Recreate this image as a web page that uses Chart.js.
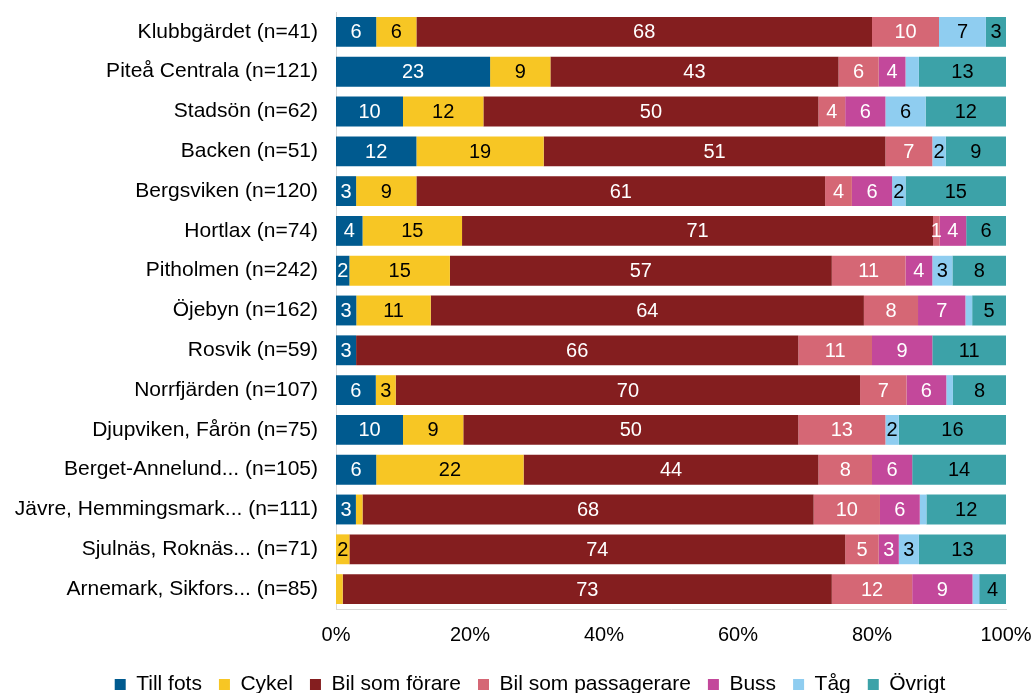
<!doctype html>
<html>
    <head>
        <meta charset="UTF-8" />
        <script src="https://cdn.jsdelivr.net/npm/chart.js"></script>
        <style>
            html, body { margin: 0; padding: 0; background: #fff; }
            #wrap { width: 1035px; height: 693px; }
        </style>
    </head>
    <body>
        <div id="wrap"><canvas id="modeChart"></canvas></div>
        <script>
            const areas = [
                "Klubbgärdet (n=41)",
                "Piteå Centrala (n=121)",
                "Stadsön (n=62)",
                "Backen (n=51)",
                "Bergsviken (n=120)",
                "Hortlax (n=74)",
                "Pitholmen (n=242)",
                "Öjebyn (n=162)",
                "Rosvik (n=59)",
                "Norrfjärden (n=107)",
                "Djupviken, Fårön (n=75)",
                "Berget-Annelund... (n=105)",
                "Jävre, Hemmingsmark... (n=111)",
                "Sjulnäs, Roknäs... (n=71)",
                "Arnemark, Sikfors... (n=85)",
            ];

            const tillFots = [6, 23, 10, 12, 3, 4, 2, 3, 3, 6, 10, 6, 3, 0, 0];
            const cykel = [6, 9, 12, 19, 9, 15, 15, 11, 0, 3, 9, 22, 1, 2, 1];
            const bilForare = [68, 43, 50, 51, 61, 71, 57, 64, 66, 70, 50, 44, 68, 74, 73];
            const bilPassagerare = [10, 6, 4, 7, 4, 1, 11, 8, 11, 7, 13, 8, 10, 5, 12];
            const buss = [0, 4, 6, 0, 6, 4, 4, 7, 9, 6, 0, 6, 6, 3, 9];
            const tag = [7, 2, 6, 2, 2, 0, 3, 1, 0, 1, 2, 0, 1, 3, 1];
            const ovrigt = [3, 13, 12, 9, 15, 6, 8, 5, 11, 8, 16, 14, 12, 13, 4];

            const xTicks = [0, 20, 40, 60, 80, 100];

            // segments that have no value label in the original ("row:series")
            const unlabeled = ["1:5", "7:5", "9:5", "12:1", "12:5", "14:1", "14:5"];

            const series = [
                { label: "Till fots", data: tillFots, color: "#005A8F", text: "#fff" },
                { label: "Cykel", data: cykel, color: "#F7C624", text: "#000" },
                { label: "Bil som förare", data: bilForare, color: "#841E1F", text: "#fff" },
                { label: "Bil som passagerare", data: bilPassagerare, color: "#D56775", text: "#fff" },
                { label: "Buss", data: buss, color: "#C3489B", text: "#fff" },
                { label: "Tåg", data: tag, color: "#8FCDF0", text: "#000" },
                { label: "Övrigt", data: ovrigt, color: "#3CA2A8", text: "#000" },
            ];

            // 100% stacked: each row is scaled to its own total
            const rowTotals = areas.map((_, i) => series.reduce((s, d) => s + d.data[i], 0));

            const FONT = "Arial, 'Liberation Sans', sans-serif";

            const barLabels = {
                id: "barLabels",
                afterDatasetsDraw(chart) {
                    const ctx = chart.ctx;
                    ctx.save();
                    ctx.font = "20px " + FONT;
                    ctx.textAlign = "center";
                    ctx.textBaseline = "middle";
                    chart.data.datasets.forEach((ds, si) => {
                        const meta = chart.getDatasetMeta(si);
                        meta.data.forEach((bar, ri) => {
                            const v = series[si].data[ri];
                            if (!v || unlabeled.includes(ri + ":" + si)) return;
                            ctx.fillStyle = series[si].text;
                            ctx.fillText(String(v), (bar.x + bar.base) / 2, bar.y + 1);
                        });
                    });
                    ctx.restore();
                },
            };

            // nudge the legend row a bit to the right, like the original
            const legendShift = {
                id: "legendShift",
                afterLayout(chart) {
                    chart.legend.left += 27;
                    chart.legend.right += 27;
                },
            };

            new Chart(document.getElementById("modeChart"), {
                type: "bar",
                data: {
                    labels: areas,
                    datasets: series.map((s) => ({
                        label: s.label,
                        data: s.data.map((v, i) => (v * 100) / rowTotals[i]),
                        backgroundColor: s.color,
                        borderWidth: 0,
                        barPercentage: 0.75,
                        categoryPercentage: 1,
                    })),
                },
                options: {
                    indexAxis: "y",
                    responsive: true,
                    maintainAspectRatio: false,
                    animation: false,
                    layout: { padding: { top: 12, right: 29, left: 0, bottom: -12 } },
                    scales: {
                        x: {
                            stacked: true,
                            min: 0,
                            max: 100,
                            afterBuildTicks: (scale) => {
                                scale.ticks = xTicks.map((v) => ({ value: v }));
                            },
                            afterFit: (scale) => {
                                scale.height = 48;
                                scale.paddingLeft = 0;
                                scale.paddingRight = 0;
                            },
                            grid: { display: false, drawTicks: false },
                            border: { display: true, color: "#d9d9d9", width: 1 },
                            ticks: {
                                padding: 14,
                                color: "#000",
                                font: { family: FONT, size: 20 },
                                callback: (v) => v + "%",
                            },
                        },
                        y: {
                            stacked: true,
                            afterFit: (scale) => {
                                scale.width = 336;
                                scale.paddingTop = 0;
                                scale.paddingBottom = 0;
                            },
                            grid: { display: false, drawTicks: false },
                            border: { display: true, color: "#d9d9d9", width: 1 },
                            ticks: {
                                padding: 18,
                                color: "#000",
                                font: { family: FONT, size: 21 },
                            },
                        },
                    },
                    plugins: {
                        legend: {
                            position: "bottom",
                            labels: {
                                boxWidth: 11,
                                boxHeight: 11,
                                padding: 17,
                                color: "#000",
                                font: { family: FONT, size: 21 },
                            },
                        },
                        tooltip: { enabled: false },
                    },
                },
                plugins: [barLabels, legendShift],
            });
        </script>
    </body>
</html>
